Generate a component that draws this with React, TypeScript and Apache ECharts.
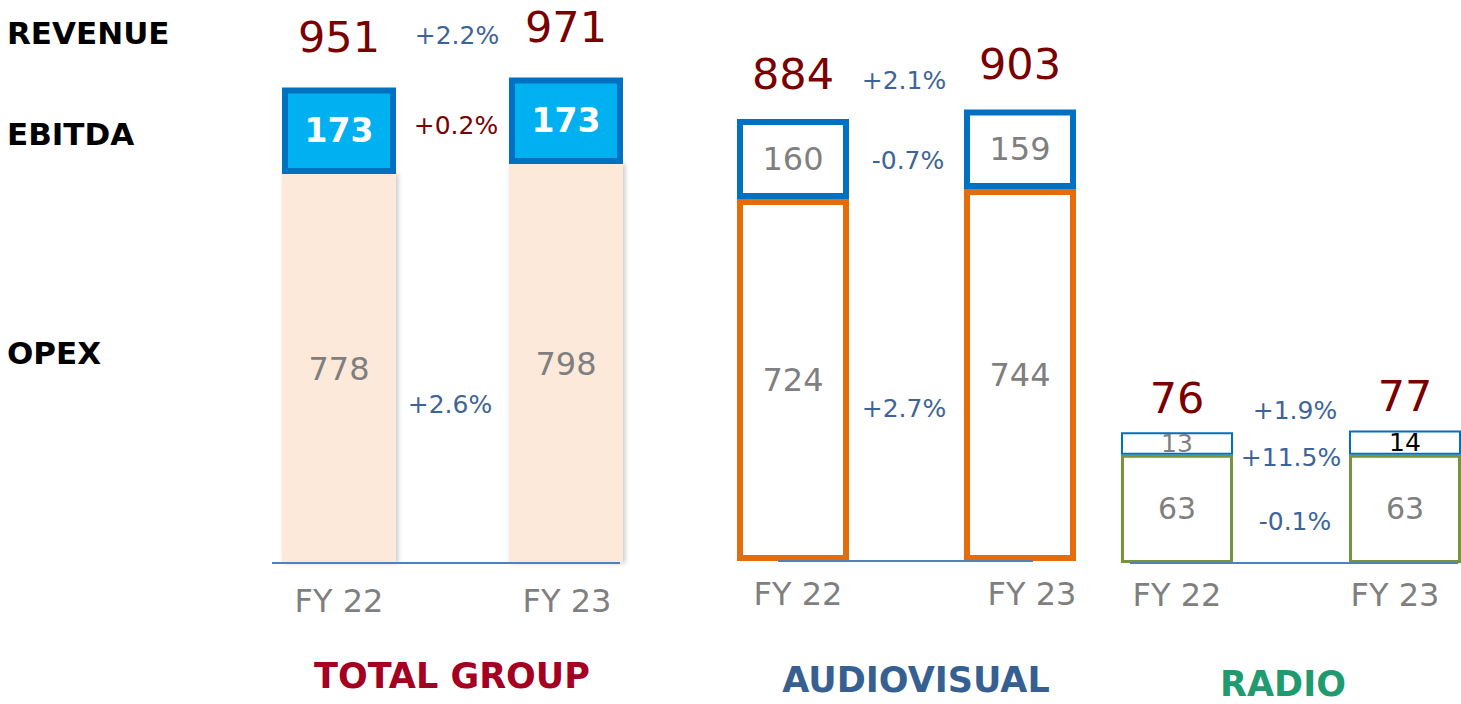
import React, { useEffect, useRef } from "react";
import * as echarts from "echarts";

const categories = ["FY 22", "FY 23"];

const totalOpex = [778, 798];
const totalEbitda = [173, 173];
const totalRevenue = [951, 971];

const avOpex = [724, 744];
const avEbitda = [160, 159];
const avRevenue = [884, 903];

const radioOpex = [63, 63];
const radioEbitda = [13, 14];
const radioRevenue = [76, 77];

// growth labels: [revenue, ebitda, opex]
const totalGrowth = ["+2.2%", "+0.2%", "+2.6%"];
const avGrowth = ["+2.1%", "-0.7%", "+2.7%"];
const radioGrowth = ["+1.9%", "+11.5%", "-0.1%"];

const rowLabels = ["REVENUE", "EBITDA", "OPEX"];
const segmentTitles = ["TOTAL GROUP", "AUDIOVISUAL", "RADIO"];

const FONT = "'DejaVu Sans', sans-serif";
const GRAY = "#7F7F7F";
const DARKRED = "#7A0000";
const GBLUE = "#3D6499";
const LINEBLUE = "#4F81BD";

export default function App() {
  const ref = useRef<HTMLDivElement>(null);

  useEffect(() => {
    if (!ref.current) return;
    const chart = echarts.init(ref.current, null, { renderer: "svg" });

    const grids = [
      { left: 339, width: 227, top: 63, height: 500 },
      { left: 793, width: 227, top: 61, height: 500 },
      { left: 1177, width: 228, top: 391, height: 172 },
    ];
    const yMax = [1000, 1000, 100];
    const labelMargin = [22, 17, 16];
    // horizontal label shifts (left/right padding) per grid per category
    const labelPad = [
      [
        [0, 0, 0, 0],
        [0, 0, 0, 2],
      ],
      [
        [0, 0, 0, 10],
        [0, 0, 0, 24],
      ],
      [
        [0, 0, 0, 0],
        [0, 20, 0, 0],
      ],
    ];

    const revLabel = (dist: number) => ({
      show: true,
      position: "top",
      distance: dist,
      color: DARKRED,
      fontSize: 43,
      lineHeight: 36,
      fontFamily: FONT,
    });

    const grayInside = (size: number) => ({
      show: true,
      position: "inside",
      color: GRAY,
      fontSize: size,
      fontFamily: FONT,
    });

    const barBase = (stack: string, idx: number) => ({
      type: "bar",
      stack,
      xAxisIndex: idx,
      yAxisIndex: idx,
      barWidth: 112,
      clip: false,
    });

    const revSeries = (idx: number, data: number[], dist: number) => ({
      type: "scatter",
      xAxisIndex: idx,
      yAxisIndex: idx,
      symbolSize: 1,
      clip: false,
      itemStyle: { color: "rgba(0,0,0,0)", opacity: 1 },
      data,
      label: revLabel(dist),
      z: 5,
    });

    const series: any[] = [
      // TOTAL GROUP
      {
        ...barBase("t", 0),
        barWidth: 114,
        data: totalOpex,
        itemStyle: {
          color: "#FCE9DA",
          shadowColor: "rgba(0,0,0,0.22)",
          shadowBlur: 5,
          shadowOffsetX: 2,
        },
        label: grayInside(32),
      },
      {
        ...barBase("t", 0),
        barWidth: 114,
        data: totalEbitda,
        itemStyle: { color: "#00B0F0", borderColor: "#0070C0", borderWidth: 6 },
        label: {
          show: true,
          position: "inside",
          color: "#FFFFFF",
          fontSize: 33,
          fontWeight: "bold",
          fontFamily: FONT,
        },
      },
      revSeries(0, totalRevenue, 32),
      // AUDIOVISUAL
      {
        ...barBase("a", 1),
        data: avOpex,
        itemStyle: { color: "#FFFFFF", borderColor: "#E46C0A", borderWidth: 6 },
        label: grayInside(32),
      },
      {
        ...barBase("a", 1),
        data: avEbitda,
        itemStyle: { color: "#FFFFFF", borderColor: "#0070C0", borderWidth: 6 },
        label: grayInside(32),
      },
      revSeries(1, avRevenue, 27),
      // RADIO
      {
        ...barBase("r", 2),
        data: radioOpex,
        itemStyle: { color: "#FFFFFF", borderColor: "#77933C", borderWidth: 3 },
        label: grayInside(30),
      },
      {
        ...barBase("r", 2),
        data: radioEbitda.map((v, i) => ({
          value: v,
          label: { color: i === 1 ? "#000000" : GRAY },
        })),
        itemStyle: { color: "#FFFFFF", borderColor: "#0070C0", borderWidth: 2 },
        label: grayInside(25),
      },
      revSeries(2, radioRevenue, 16),
    ];

    const growthText = (x: number, y: number, text: string, color: string) => ({
      type: "text",
      x,
      y,
      z: 100,
      style: {
        text,
        fill: color,
        fontSize: 25,
        fontFamily: FONT,
        align: "center",
        verticalAlign: "middle",
      },
    });

    const baseline = (x1: number, x2: number, y: number) => ({
      type: "line",
      z: 100,
      shape: { x1, y1: y, x2, y2: y },
      style: { stroke: LINEBLUE, lineWidth: 2 },
    });

    const leftLabel = (y: number, text: string) => ({
      type: "text",
      x: 7,
      y,
      style: {
        text,
        fill: "#000000",
        fontSize: 31,
        fontWeight: "bold",
        fontFamily: FONT,
        align: "left",
        verticalAlign: "middle",
      },
    });

    const title = (x: number, y: number, text: string, color: string) => ({
      type: "text",
      x,
      y,
      style: {
        text,
        fill: color,
        fontSize: 35,
        fontWeight: "bold",
        fontFamily: FONT,
        align: "center",
        verticalAlign: "middle",
      },
    });

    chart.setOption({
      animation: false,
      backgroundColor: "#FFFFFF",
      grid: grids.map((g) => ({ ...g, containLabel: false })),
      xAxis: grids.map((_, i) => ({
        type: "category",
        gridIndex: i,
        data: categories,
        boundaryGap: false,
        axisLine: { show: false },
        axisTick: { show: false },
        axisLabel: {
          interval: 0,
          showMinLabel: true,
          showMaxLabel: true,
          color: GRAY,
          fontSize: 32,
          fontFamily: FONT,
          margin: labelMargin[i],
          formatter: (v: string, idx: number) => `{s${idx}|${v}}`,
          rich: {
            s0: {
              color: GRAY,
              fontSize: 32,
              fontFamily: FONT,
              padding: labelPad[i][0],
            },
            s1: {
              color: GRAY,
              fontSize: 32,
              fontFamily: FONT,
              padding: labelPad[i][1],
            },
          },
        },
      })),
      yAxis: grids.map((_, i) => ({
        type: "value",
        gridIndex: i,
        min: 0,
        max: yMax[i],
        show: false,
        splitLine: { show: false },
      })),
      series,
      graphic: [
        leftLabel(33, rowLabels[0]),
        leftLabel(134, rowLabels[1]),
        leftLabel(353, rowLabels[2]),
        baseline(272, 620, 563),
        baseline(778, 1033, 561),
        baseline(1130, 1458, 563),
        growthText(457, 35, totalGrowth[0], GBLUE),
        growthText(456, 125, totalGrowth[1], DARKRED),
        growthText(450, 404, totalGrowth[2], GBLUE),
        growthText(904, 80, avGrowth[0], GBLUE),
        growthText(908, 160, avGrowth[1], GBLUE),
        growthText(904, 408, avGrowth[2], GBLUE),
        growthText(1295, 410, radioGrowth[0], GBLUE),
        growthText(1291, 457, radioGrowth[1], GBLUE),
        growthText(1295, 521, radioGrowth[2], GBLUE),
        title(452, 676, segmentTitles[0], "#A50021"),
        title(916, 680, segmentTitles[1], "#376092"),
        title(1283, 684, segmentTitles[2], "#1F9B6F"),
      ],
    });

    return () => chart.dispose();
  }, []);

  return (
    <div
      ref={ref}
      style={{ position: "fixed", left: 0, top: 0, width: 1461, height: 704 }}
    />
  );
}
